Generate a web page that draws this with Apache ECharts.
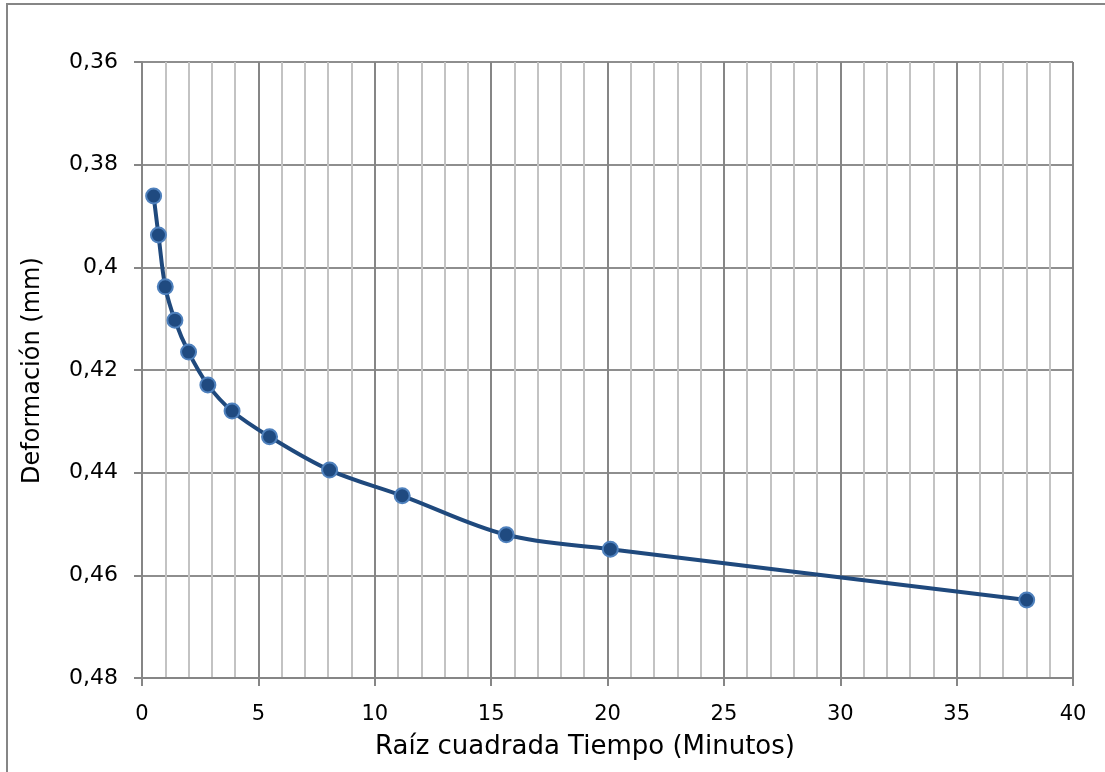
<!DOCTYPE html>
<html>
<head>
<meta charset="utf-8">
<script src="https://cdn.jsdelivr.net/npm/echarts@6/dist/echarts.min.js"></script>
<style>
html,body{margin:0;padding:0;background:#fff;}
#chart{width:1105px;height:772px;}
</style>
</head>
<body>
<div id="chart"></div>
<script>
// Data
const xValues = [0.5, 0.707, 1.0, 1.414, 2.0, 2.83, 3.87, 5.48, 8.06, 11.18, 15.65, 20.12, 38.01];
const yValues = [0.3861, 0.3937, 0.4038, 0.4103, 0.4165, 0.4229, 0.4280, 0.4330, 0.4395, 0.4445, 0.4521, 0.4549, 0.4648];
const yTickLabels = ['0,36', '0,38', '0,4', '0,42', '0,44', '0,46', '0,48'];
const xTitle = 'Raíz cuadrada Tiempo (Minutos)';
const yTitle = 'Deformación (mm)';

const FONT = 'DejaVu Sans';
const chart = echarts.init(document.getElementById('chart'));
const points = xValues.map((x, i) => [x, yValues[i]]);

chart.setOption({
  backgroundColor: '#ffffff',
  animation: false,
  grid: { left: 142, top: 62, right: 32, bottom: 94, containLabel: false },
  xAxis: {
    type: 'value', min: 0, max: 40, interval: 5,
    axisLine: { show: true, onZero: false, lineStyle: { color: '#868686', width: 2 } },
    axisTick: { show: true, length: 8, lineStyle: { color: '#868686', width: 2 } },
    axisLabel: { color: '#000', fontFamily: FONT, fontSize: 21, margin: 26 , lineHeight: 21},
    splitLine: { show: true, lineStyle: { color: '#868686', width: 2 } },
    minorTick: { show: false, splitNumber: 5 },
    minorSplitLine: { show: true, lineStyle: { color: '#c3c3c3', width: 2 } }
  },
  yAxis: {
    type: 'value', min: 0.36, max: 0.48, interval: 0.02, inverse: true,
    axisLine: { show: true, lineStyle: { color: '#868686', width: 2 } },
    axisTick: { show: true, length: 8, lineStyle: { color: '#868686', width: 2 } },
    axisLabel: {
      color: '#000', fontFamily: FONT, fontSize: 22, margin: 24,
      formatter: function (v) {
        const idx = Math.round((v - 0.36) / 0.02);
        return yTickLabels[idx] !== undefined ? yTickLabels[idx] : '';
      }
    },
    splitLine: { show: true, lineStyle: { color: '#8e8e8e', width: 2 } }
  },
  series: [{
    type: 'line',
    data: points,
    smooth: 0.35,
    symbol: 'circle',
    symbolSize: 15,
    lineStyle: { color: '#1f497d', width: 4 },
    itemStyle: { color: '#1f4a80', borderColor: '#4f81bd', borderWidth: 2 },
    z: 5
  }],
  graphic: [
    {
      type: 'rect', silent: true, z: -1,
      shape: { x: 7, y: 4, width: 1300, height: 1000 },
      style: { fill: 'none', stroke: '#868686', lineWidth: 2 }
    },
    {
      type: 'text', left: 375, top: 734,
      style: { text: xTitle, fontFamily: FONT, fontSize: 26, fill: '#000' }
    },
    {
      type: 'text', x: 21, y: 484, rotation: Math.PI / 2,
      style: { text: yTitle, fontFamily: FONT, fontSize: 24, fill: '#000' }
    }
  ]
});
</script>
</body>
</html>
